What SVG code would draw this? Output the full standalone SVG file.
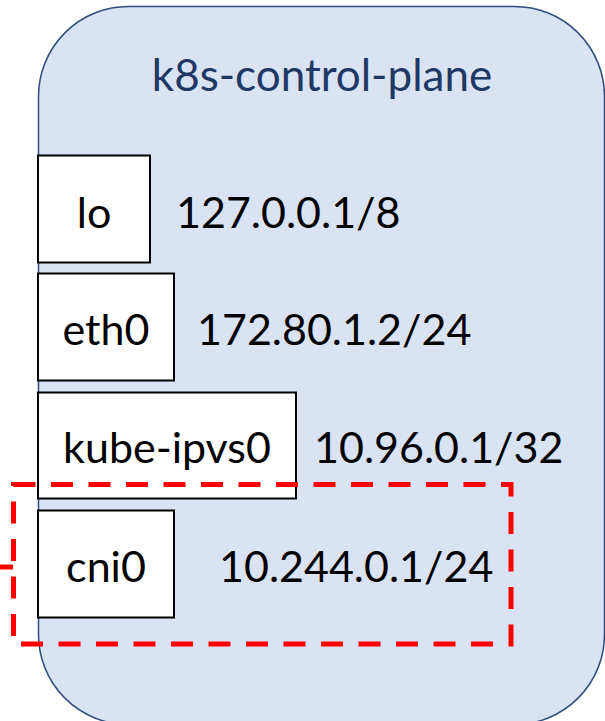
<svg xmlns="http://www.w3.org/2000/svg" width="605" height="721" viewBox="0 0 605 721">
  <style>
    .host { fill: #dae3f3; stroke: #2f4d7e; stroke-width: 1.5; }
    .title { font-family: Lato, "Liberation Sans", sans-serif; font-size: 44px; fill: #203864; }
    .iface rect { fill: #ffffff; stroke: #000000; stroke-width: 2; }
    .name { font-family: Lato, "Liberation Sans", sans-serif; font-size: 43px; fill: #000000; text-anchor: middle; }
    .addr { font-family: Lato, "Liberation Sans", sans-serif; font-size: 43px; fill: #000000; }
    .hl { fill: none; stroke: #ff0000; stroke-width: 5; stroke-dasharray: 22 15.5; }
  </style>

  <!-- host node -->
  <g id="k8s-control-plane">
    <rect class="host" x="38.5" y="6.5" width="566" height="718" rx="90" ry="90"/>
    <text class="title" x="322" y="91" text-anchor="middle">k8s-control-plane</text>
  </g>

  <!-- network interfaces -->
  <g id="lo" class="iface">
    <rect x="38" y="155.5" width="112" height="107"/>
    <text class="name" x="94" y="228">lo</text>
  </g>
  <text class="addr" x="176" y="228">127.0.0.1/8</text>

  <g id="eth0" class="iface">
    <rect x="38" y="273.5" width="136" height="107"/>
    <text class="name" x="106" y="345">eth0</text>
  </g>
  <text class="addr" x="197" y="345">172.80.1.2/24</text>

  <g id="kube-ipvs0" class="iface">
    <rect x="38" y="392.5" width="258" height="106"/>
    <text class="name" x="167" y="463">kube-ipvs0</text>
  </g>
  <text class="addr" x="314" y="463">10.96.0.1/32</text>

  <g id="cni0" class="iface">
    <rect x="38" y="510.5" width="136" height="107"/>
    <text class="name" x="106" y="582">cni0</text>
  </g>
  <text class="addr" x="219" y="582">10.244.0.1/24</text>

  <!-- highlight around cni0 and its incoming link -->
  <g id="connectors">
    <rect class="hl" x="13.5" y="484.5" width="497.5" height="159.5"/>
    <line x1="0" y1="567" x2="13" y2="567" stroke="#ff0000" stroke-width="5"/>
  </g>
</svg>
